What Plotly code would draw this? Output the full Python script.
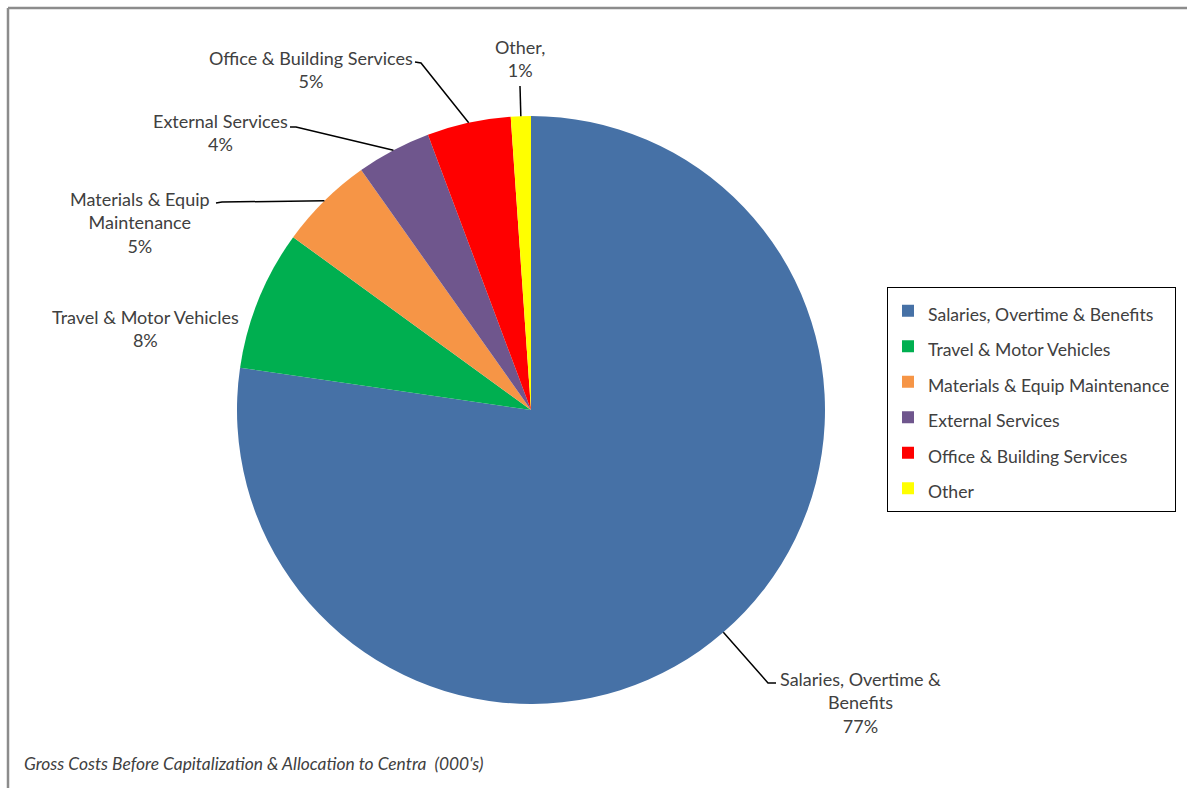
import math
import plotly.graph_objects as go

# ---- data ----
categories = ["Salaries, Overtime & Benefits", "Travel & Motor Vehicles",
              "Materials & Equip Maintenance", "External Services",
              "Office & Building Services", "Other"]
values = [77.3, 7.7, 5.2, 4.1, 4.6, 1.1]
colors = ["#4671A6", "#00AF50", "#F69546", "#6F568D", "#FF0000", "#FFFF00"]
label_texts = ["Salaries, Overtime &<br>Benefits", "Travel & Motor Vehicles",
               "Materials & Equip<br>Maintenance", "External Services",
               "Office & Building Services", "Other,"]
footnote = "Gross Costs Before Capitalization & Allocation to Centra  (000's)"

W, H = 1187, 788
CX, CY, R = 531, 410, 294
FONT = "Lato"
TXT = "#404040"

def px(x):
    return x / W

def py(y):
    return 1 - y / H

total = sum(values)
pct = [f"{round(v / total * 100):.0f}%" for v in values]

fig = go.Figure(go.Pie(
    labels=[f"<span style='font-size:17.6px'>{c}</span>" for c in categories],
    values=values,
    marker=dict(colors=colors, line=dict(width=0)),
    sort=False, direction="clockwise", rotation=0,
    textinfo="none", hoverinfo="label+percent",
    domain=dict(x=[px(CX - R), px(CX + R)], y=[py(CY + R), py(CY - R)]),
))

# mid-angle edge points of slices (from data)
edge = []
cum = 0
for v in values:
    mid = (cum + v / 2) / total * 2 * math.pi
    cum += v
    edge.append((CX + R * math.sin(mid), CY - R * math.cos(mid)))

# label layout: (text center x, block center y, leader path points from label to edge)
label_layout = {
    0: dict(x=860, y=702, path=[(776, 683), (768, 683)]),
    1: dict(x=145, y=329, path=None),
    2: dict(x=140, y=222, path=[(216, 203), (222, 202)]),
    3: dict(x=220, y=133, path=[(290, 127), (296, 127)]),
    4: dict(x=311, y=70, path=[(415, 62), (421, 63)]),
    5: dict(x=520, y=59, path=[(520, 86)]),
}

annotations = []
shapes = []
for i, lay in label_layout.items():
    annotations.append(dict(
        x=px(lay["x"]), y=py(lay["y"]), xref="paper", yref="paper",
        text=label_texts[i] + "<br>" + pct[i], showarrow=False,
        font=dict(family=FONT, size=18, color=TXT), align="center",
        xanchor="center", yanchor="middle"))
    if lay["path"]:
        pts = lay["path"] + [edge[i]]
        d = "M " + " L ".join(f"{px(a)},{py(b)}" for a, b in pts)
        shapes.append(dict(type="path", path=d, xref="paper", yref="paper",
                           line=dict(color="#000000", width=1.5)))

annotations.append(dict(
    x=px(22), y=py(763), xref="paper", yref="paper", text="<i>" + footnote + "</i>",
    showarrow=False, xanchor="left", yanchor="middle",
    font=dict(family=FONT, size=17.4, color=TXT)))

# chart area border (top and left visible)
shapes.append(dict(type="line", xref="paper", yref="paper", x0=px(8), y0=py(8), x1=1, y1=py(8),
                   line=dict(color="#8C8C8C", width=2.5)))
shapes.append(dict(type="line", xref="paper", yref="paper", x0=px(8), y0=py(8), x1=px(8), y1=0,
                   line=dict(color="#8C8C8C", width=2.5)))

fig.update_layout(
    width=W, height=H, margin=dict(l=0, r=0, t=0, b=0),
    paper_bgcolor="white", plot_bgcolor="white",
    annotations=annotations, shapes=shapes,
    legend=dict(x=px(887), y=py(287), xanchor="left", yanchor="top",
                bordercolor="#000000", borderwidth=1, bgcolor="white",
                font=dict(family=FONT, size=25, color=TXT),
                itemclick=False, itemdoubleclick=False),
    showlegend=True,
)

fig.write_html("out.html")
